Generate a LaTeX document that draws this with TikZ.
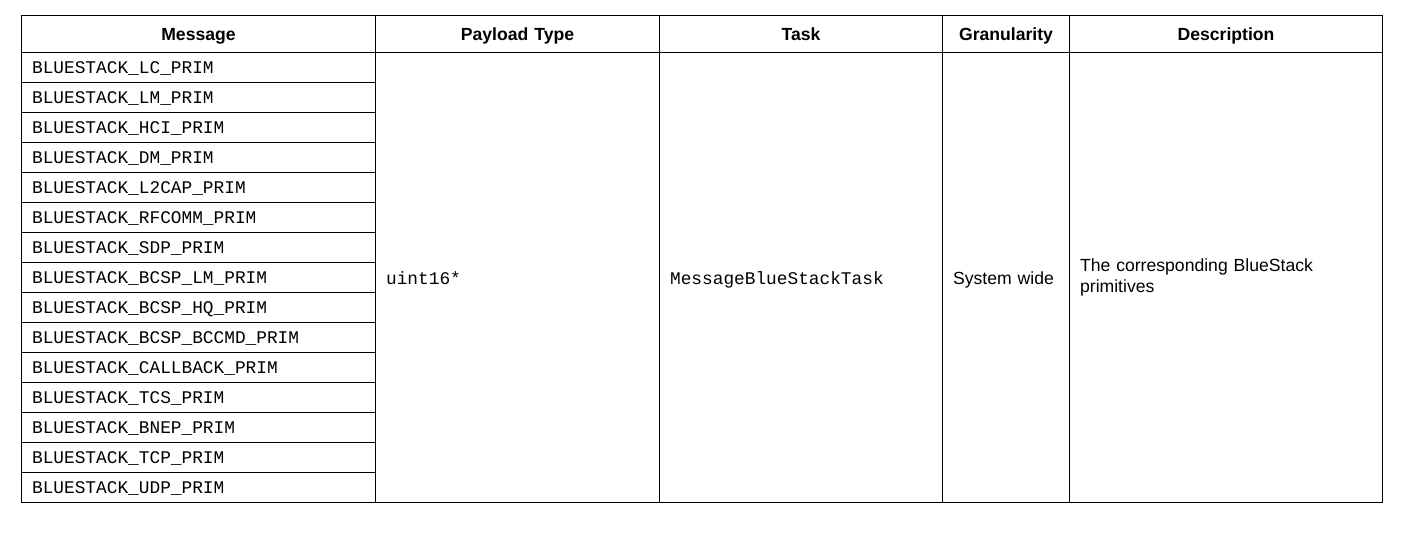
\documentclass[tikz,border=0pt]{standalone}
\usepackage{fontspec}
\setmainfont{Liberation Sans}
\setmonofont{Liberation Mono}
\usetikzlibrary{positioning}
\tikzset{
  cell/.style={
    rectangle,
    draw=black, line width=0.55pt,
    inner xsep=5.3pt,
    inner ysep=0pt,
    outer sep=0pt,
    align=left},
  msgcell/.style={
    cell,
    font=\ttfamily\fontsize{8.9}{10.5}\selectfont,
    text width=166.4pt,
    minimum height=15pt,
    text height=6.6pt,
    text depth=0.4pt},
  headcell/.style={
    cell,
    font=\bfseries\fontsize{8.8}{10.35}\selectfont,
    align=center,
    minimum height=18.5pt,
    text height=6.3pt,
    text depth=0pt},
  spancell/.style={
    cell,
    font=\fontsize{8.8}{10.35}\selectfont,
    minimum height=225pt},
  spanline/.style={
    spancell,
    text height=6.6pt,
    text depth=0pt},
  monotext/.style={font=\ttfamily\fontsize{8.9}{10.5}\selectfont},
}
\begin{document}
\begin{tikzpicture}
[x=0.5pt, y=-0.5pt,
  node distance=15pt]
    \useasboundingbox (0,0) rectangle (1410,533);

    % header row
    \node [headcell, text width=166.4pt](hmsg) at (198.5,34) {Message};
    \node [headcell, text width=131.4pt](hpay) at (517.5,34) {Payload Type};
    \node [headcell, text width=130.9pt](htask) at (801,34) {Task};
    \node [headcell, text width=52.9pt](hgran) at (1006,34) {Granularity};
    \node [headcell, text width=145.9pt](hdesc) at (1226,34) {Description};

    % message column
    \node [msgcell, below of=hmsg, node distance=16.75pt](lc){BLUESTACK\_LC\_PRIM};
    \node [msgcell, below of=lc](lm){BLUESTACK\_LM\_PRIM};
    \node [msgcell, below of=lm](hci){BLUESTACK\_HCI\_PRIM};
    \node [msgcell, below of=hci](dm){BLUESTACK\_DM\_PRIM};
    \node [msgcell, below of=dm](ltcap){BLUESTACK\_L2CAP\_PRIM};
    \node [msgcell, below of=ltcap](rfcomm){BLUESTACK\_RFCOMM\_PRIM};
    \node [msgcell, below of=rfcomm](sdp){BLUESTACK\_SDP\_PRIM};
    \node [msgcell, below of=sdp](bcsplm){BLUESTACK\_BCSP\_LM\_PRIM};
    \node [msgcell, below of=bcsplm](bcsphq){BLUESTACK\_BCSP\_HQ\_PRIM};
    \node [msgcell, below of=bcsphq](bccmd){BLUESTACK\_BCSP\_BCCMD\_PRIM};
    \node [msgcell, below of=bccmd](callback){BLUESTACK\_CALLBACK\_PRIM};
    \node [msgcell, below of=callback](tcs){BLUESTACK\_TCS\_PRIM};
    \node [msgcell, below of=tcs](bnep){BLUESTACK\_BNEP\_PRIM};
    \node [msgcell, below of=bnep](tcp){BLUESTACK\_TCP\_PRIM};
    \node [msgcell, below of=tcp](udp){BLUESTACK\_UDP\_PRIM};

    % spanning cells
    \node [spanline, monotext, text width=131.4pt, below of=hpay, node distance=121.75pt](payload){uint16*};
    \node [spanline, monotext, text width=130.9pt, below of=htask, node distance=121.75pt](task){MessageBlueStackTask};
    \node [spanline, text width=52.9pt, below of=hgran, node distance=121.75pt](gran){System wide};
    \node [spancell, text width=145.9pt, below of=hdesc, node distance=121.75pt](desc){The corresponding BlueStack\\primitives};

\end{tikzpicture}
\end{document}
